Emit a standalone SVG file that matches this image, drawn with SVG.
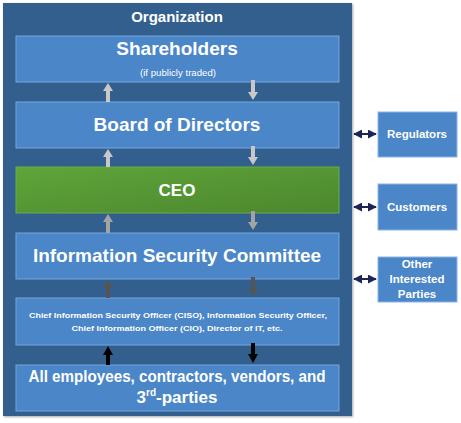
<svg xmlns="http://www.w3.org/2000/svg" width="461" height="423" viewBox="0 0 461 423">
<defs>
<linearGradient id="g" x1="0" y1="0" x2="1" y2="1">
<stop offset="0" stop-color="#5fa53a"/>
<stop offset="1" stop-color="#4c872e"/>
</linearGradient>
<marker id="na" viewBox="0 0 10 10" refX="9" refY="5" markerWidth="4.5" markerHeight="4.5" orient="auto-start-reverse" markerUnits="strokeWidth">
<path d="M0,0 L10,5 L0,10 z" fill="#1c2553"/>
</marker>
<filter id="sh" x="-5%" y="-5%" width="110%" height="110%">
<feDropShadow dx="1" dy="1" stdDeviation="1.2" flood-color="#000" flood-opacity="0.35"/>
</filter>
</defs>
<style>
.box{fill:#4a86c8;stroke:#74a6dc;stroke-width:1}
.side{fill:#4a86c8;stroke:#8cb6e4;stroke-width:1}
text{font-family:"Liberation Sans",Arial,sans-serif;font-weight:bold;fill:#ffffff;text-anchor:middle}
.big{font-size:19px}
.sm{font-size:11.5px}
.conn{stroke:#1c2553;stroke-width:2;fill:none}
</style>
<rect x="3" y="3" width="349" height="413" fill="#335e8e" filter="url(#sh)"/>
<text x="177" y="22" style="font-size:15px">Organization</text>

<g id="shareholders">
<rect class="box" x="16" y="36" width="323" height="46"/>
<text class="big" x="177" y="55">Shareholders</text>
<text x="178" y="76" style="font-size:8.5px;font-weight:normal" textLength="76" lengthAdjust="spacingAndGlyphs">(if publicly traded)</text>
</g>
<g id="board">
<rect class="box" x="16" y="102" width="323" height="46"/>
<text class="big" x="177" y="131">Board of Directors</text>
</g>
<g id="ceo">
<rect x="16" y="167" width="323" height="46" fill="url(#g)" stroke="#6aae45" stroke-width="1"/>
<text x="177" y="196" style="font-size:17px">CEO</text>
</g>
<g id="isc">
<rect class="box" x="16" y="233" width="323" height="46"/>
<text class="big" x="177" y="262">Information Security Committee</text>
</g>
<g id="ciso">
<rect class="box" x="16" y="298" width="323" height="47"/>
<text x="178" y="318" style="font-size:8px" textLength="298" lengthAdjust="spacingAndGlyphs">Chief Information Security Officer (CISO), Information Security Officer,</text>
<text x="177" y="331" style="font-size:8px" textLength="211" lengthAdjust="spacingAndGlyphs">Chief Information Officer (CIO), Director of IT, etc.</text>
</g>
<g id="employees">
<rect class="box" x="16" y="365" width="323" height="46"/>
<text x="177" y="382" style="font-size:17px" textLength="297" lengthAdjust="spacingAndGlyphs">All employees, contractors, vendors, and</text>
<text x="177" y="403" style="font-size:17px">3<tspan dy="-7" style="font-size:10px">rd</tspan><tspan dy="7">-parties</tspan></text>
</g>
<g id="regulators">
<rect class="side" x="378" y="112" width="79" height="45"/>
<text class="sm" x="417" y="138">Regulators</text>
</g>
<g id="customers">
<rect class="side" x="378" y="184" width="79" height="46"/>
<text class="sm" x="417" y="211">Customers</text>
</g>
<g id="others">
<rect class="side" x="378" y="257" width="79" height="45"/>
<text class="sm" x="417" y="268">Other</text>
<text class="sm" x="417" y="283">Interested</text>
<text class="sm" x="417" y="298">Parties</text>
</g>

<g id="connectors">
<g fill="#c8c8c8">
<path d="M106,102 V91 H103 L108,83 L113,91 H110 V102 z"/>
<path d="M251,80 V92 H248 L253,100 L258,92 H255 V80 z"/>
<path d="M106,167 V157 H103 L108,149 L113,157 H110 V167 z"/>
<path d="M251,146 V157 H248 L253,165 L258,157 H255 V146 z"/>
</g>
<g fill="#a3a3a3">
<path d="M106,233 V222 H103 L108,214 L113,222 H110 V233 z"/>
<path d="M251,211 V222 H248 L253,230 L258,222 H255 V211 z"/>
</g>
<g fill="#555555">
<path d="M106,298 V288 H103 L108,280 L113,288 H110 V298 z"/>
<path d="M251,277 V288 H248 L253,296 L258,288 H255 V277 z"/>
</g>
<g fill="#000000">
<path d="M106,365 V355 H103 L108,346 L113,355 H110 V365 z"/>
<path d="M251,343 V354 H248 L253,363 L258,354 H255 V343 z"/>
</g>
<path class="conn" d="M354,134 H376" marker-start="url(#na)" marker-end="url(#na)"/>
<path class="conn" d="M354,207 H376" marker-start="url(#na)" marker-end="url(#na)"/>
<path class="conn" d="M354,279 H376" marker-start="url(#na)" marker-end="url(#na)"/>
</g>
</svg>
